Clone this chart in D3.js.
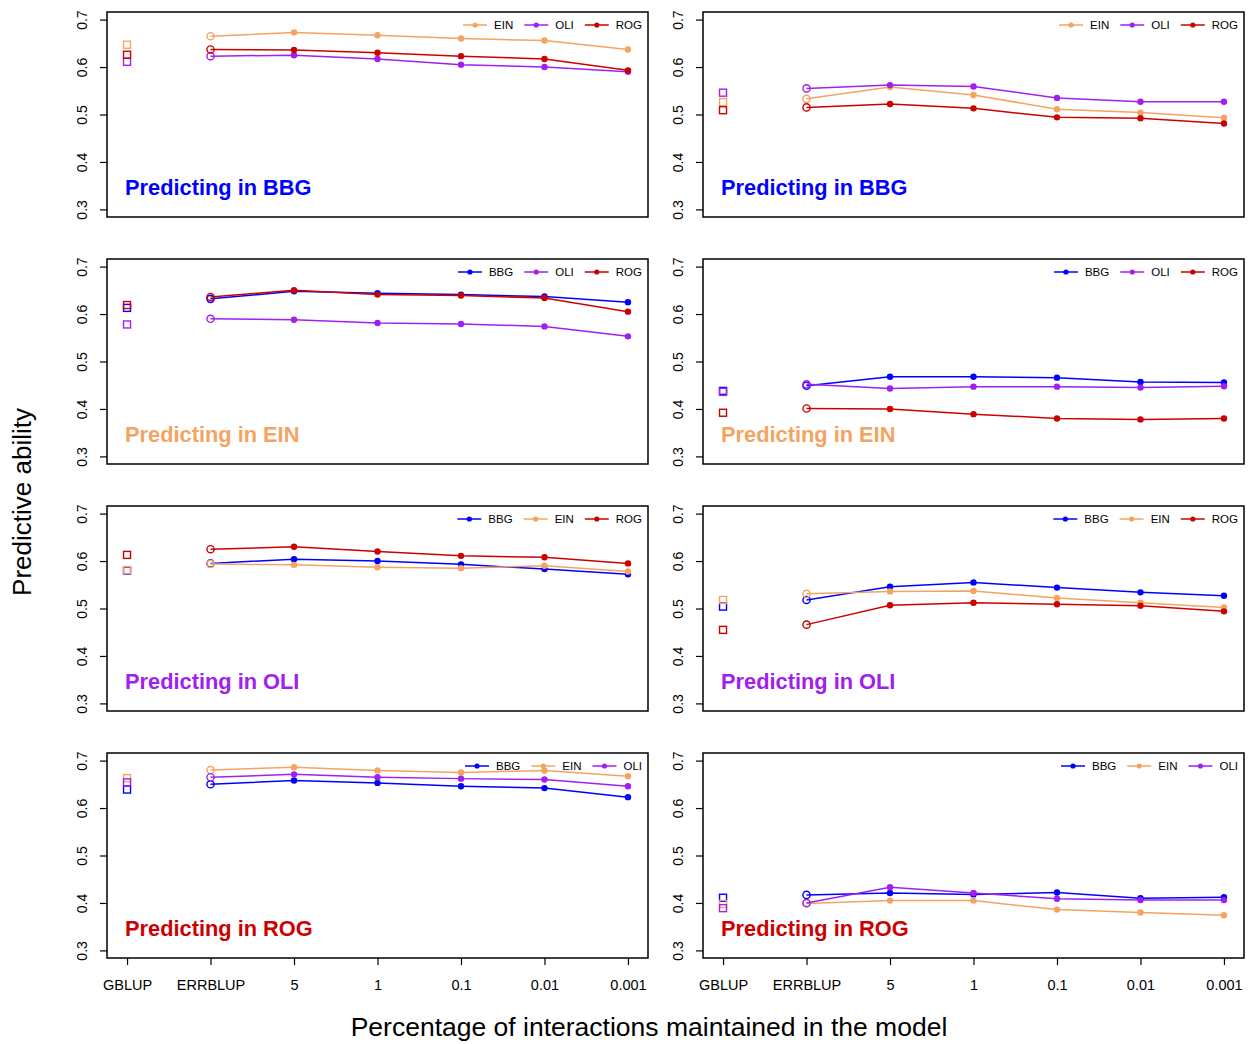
<!DOCTYPE html>
<html>
<head>
<meta charset="utf-8">
<script src="https://cdn.jsdelivr.net/npm/d3@7"></script>
<style>
  html, body { margin: 0; padding: 0; background: #ffffff; }
  svg { display: block; font-family: "Liberation Sans", Arial, Helvetica, sans-serif; }
</style>
</head>
<body>
<svg id="chart" width="1250" height="1044"></svg>
<script>
// ---------- DATA ----------
const categories = ["GBLUP", "ERRBLUP", "5", "1", "0.1", "0.01", "0.001"];
const yTicks = [0.3, 0.4, 0.5, 0.6, 0.7];
const populations = ["BBG", "EIN", "OLI", "ROG"];
const popColors = ["#0000FF", "#F4A460", "#A020F0", "#CD0000"];

// Left column, predicting in BBG
const bbgL_EIN = [0.647, 0.665, 0.673, 0.667, 0.660, 0.656, 0.637];
const bbgL_OLI = [0.611, 0.623, 0.625, 0.617, 0.605, 0.600, 0.590];
const bbgL_ROG = [0.626, 0.637, 0.636, 0.630, 0.623, 0.617, 0.593];
// Right column, predicting in BBG
const bbgR_EIN = [0.526, 0.533, 0.558, 0.541, 0.511, 0.504, 0.493];
const bbgR_OLI = [0.546, 0.555, 0.562, 0.559, 0.535, 0.527, 0.527];
const bbgR_ROG = [0.509, 0.515, 0.522, 0.513, 0.494, 0.492, 0.481];
// Left column, predicting in EIN
const einL_BBG = [0.613, 0.632, 0.648, 0.644, 0.641, 0.637, 0.625];
const einL_OLI = [0.578, 0.590, 0.588, 0.581, 0.579, 0.574, 0.553];
const einL_ROG = [0.619, 0.636, 0.650, 0.641, 0.639, 0.634, 0.605];
// Right column, predicting in EIN
const einR_BBG = [0.438, 0.449, 0.468, 0.468, 0.466, 0.457, 0.456];
const einR_OLI = [0.436, 0.452, 0.443, 0.447, 0.447, 0.445, 0.448];
const einR_ROG = [0.392, 0.401, 0.400, 0.389, 0.380, 0.378, 0.380];
// Left column, predicting in OLI
const oliL_BBG = [0.580, 0.595, 0.604, 0.600, 0.593, 0.583, 0.572];
const oliL_EIN = [0.581, 0.594, 0.592, 0.587, 0.585, 0.590, 0.578];
const oliL_ROG = [0.613, 0.625, 0.630, 0.620, 0.611, 0.608, 0.595];
// Right column, predicting in OLI
const oliR_BBG = [0.504, 0.518, 0.546, 0.555, 0.544, 0.534, 0.527];
const oliR_EIN = [0.518, 0.531, 0.536, 0.537, 0.522, 0.512, 0.502];
const oliR_ROG = [0.455, 0.466, 0.507, 0.512, 0.509, 0.506, 0.494];
// Left column, predicting in ROG
const rogL_BBG = [0.639, 0.650, 0.658, 0.653, 0.646, 0.642, 0.623];
const rogL_EIN = [0.663, 0.680, 0.686, 0.679, 0.675, 0.679, 0.667];
const rogL_OLI = [0.654, 0.665, 0.671, 0.665, 0.662, 0.660, 0.646];
// Right column, predicting in ROG
const rogR_BBG = [0.411, 0.417, 0.421, 0.418, 0.422, 0.410, 0.412];
const rogR_EIN = [0.398, 0.399, 0.405, 0.405, 0.386, 0.380, 0.374];
const rogR_OLI = [0.389, 0.400, 0.433, 0.421, 0.409, 0.406, 0.406];

// Panel table built from the arrays above
const panels = [
  { target: "BBG", col: 0, row: 0, series: [["EIN", bbgL_EIN], ["OLI", bbgL_OLI], ["ROG", bbgL_ROG]] },
  { target: "BBG", col: 1, row: 0, series: [["EIN", bbgR_EIN], ["OLI", bbgR_OLI], ["ROG", bbgR_ROG]] },
  { target: "EIN", col: 0, row: 1, series: [["BBG", einL_BBG], ["OLI", einL_OLI], ["ROG", einL_ROG]] },
  { target: "EIN", col: 1, row: 1, series: [["BBG", einR_BBG], ["OLI", einR_OLI], ["ROG", einR_ROG]] },
  { target: "OLI", col: 0, row: 2, series: [["BBG", oliL_BBG], ["EIN", oliL_EIN], ["ROG", oliL_ROG]] },
  { target: "OLI", col: 1, row: 2, series: [["BBG", oliR_BBG], ["EIN", oliR_EIN], ["ROG", oliR_ROG]] },
  { target: "ROG", col: 0, row: 3, series: [["BBG", rogL_BBG], ["EIN", rogL_EIN], ["OLI", rogL_OLI]] },
  { target: "ROG", col: 1, row: 3, series: [["BBG", rogR_BBG], ["EIN", rogR_EIN], ["OLI", rogR_OLI]] }
];

// ---------- LAYOUT ----------
const colX = [[107, 648], [703, 1244]];
const rowTop = [12, 259, 506, 753];
const panelH = 205;
const color = d3.scaleOrdinal().domain(populations).range(popColors);

const svg = d3.select("#chart");

panels.forEach(p => {
  const [x0, x1] = colX[p.col];
  const top = rowTop[p.row];
  const bottom = top + panelH;

  const x = d3.scaleLinear().domain([-0.24, 6.24]).range([x0, x1]);
  const y = d3.scaleLinear().domain([0.284, 0.716]).range([bottom, top]);

  const g = svg.append("g");

  // y axis
  const ya = g.append("g")
    .attr("transform", `translate(${x0},0)`)
    .call(d3.axisLeft(y).tickValues(yTicks).tickSize(7).tickFormat(d3.format(".1f")));
  ya.select(".domain").remove();
  ya.selectAll(".tick line").attr("stroke", "#000").attr("stroke-width", 1.2);
  ya.selectAll(".tick text")
    .attr("transform", "rotate(-90)")
    .attr("x", 0).attr("y", -20.5).attr("dy", 0)
    .attr("text-anchor", "middle")
    .attr("fill", "#000")
    .style("font-size", "14px");

  // x axis on bottom row only
  if (p.row === 3) {
    const xa = g.append("g")
      .attr("transform", `translate(0,${bottom})`)
      .call(d3.axisBottom(x).tickValues(d3.range(categories.length)).tickSize(7).tickPadding(15)
        .tickFormat(i => categories[i]));
    xa.select(".domain").remove();
    xa.selectAll(".tick line").attr("stroke", "#000").attr("stroke-width", 1.2);
    xa.selectAll(".tick text").attr("fill", "#000").style("font-size", "14.5px");
  }

  // box
  g.append("rect")
    .attr("x", x0).attr("y", top)
    .attr("width", x1 - x0).attr("height", panelH)
    .attr("fill", "none").attr("stroke", "#000").attr("stroke-width", 1.5);

  // series
  const line = d3.line().x((d, i) => x(i + 1)).y(d => y(d));
  p.series.forEach(([name, vals]) => {
    const c = color(name);
    const rest = vals.slice(1);
    g.append("path")
      .attr("d", line(rest))
      .attr("fill", "none").attr("stroke", c).attr("stroke-width", 1.5);
    // GBLUP open square
    g.append("rect")
      .attr("x", x(0) - 3.5).attr("y", y(vals[0]) - 3.5)
      .attr("width", 7).attr("height", 7)
      .attr("fill", "none").attr("stroke", c).attr("stroke-width", 1.4);
    // ERRBLUP open circle
    g.append("circle")
      .attr("cx", x(1)).attr("cy", y(vals[1])).attr("r", 3.6)
      .attr("fill", "none").attr("stroke", c).attr("stroke-width", 1.4);
    // remaining filled points
    g.selectAll(null).data(vals.slice(2)).enter().append("circle")
      .attr("cx", (d, i) => x(i + 2)).attr("cy", d => y(d)).attr("r", 3.2)
      .attr("fill", c);
  });

  // legend (horizontal, right-aligned at top)
  const leg = g.append("g").style("font-size", "11.5px");
  const items = p.series.map(s => s[0]);
  const widths = items.map(t => {
    const tmp = leg.append("text").text(t);
    const w = tmp.node().getComputedTextLength();
    tmp.remove();
    return w;
  });
  const segW = 24, gap1 = 7, gap2 = 11;
  const total = d3.sum(widths) + items.length * (segW + gap1) + (items.length - 1) * gap2;
  let lx = x1 - 6 - total;
  const ly = top + 13;
  items.forEach((t, i) => {
    const c = color(t);
    leg.append("line").attr("x1", lx).attr("x2", lx + segW).attr("y1", ly).attr("y2", ly)
      .attr("stroke", c).attr("stroke-width", 1.5);
    leg.append("circle").attr("cx", lx + segW / 2).attr("cy", ly).attr("r", 2.6).attr("fill", c);
    leg.append("text").attr("x", lx + segW + gap1).attr("y", ly + 4).attr("fill", "#000").text(t);
    lx += segW + gap1 + widths[i] + gap2;
  });

  // panel label
  g.append("text")
    .attr("x", x0 + 18).attr("y", top + 183)
    .attr("fill", color(p.target))
    .style("font-size", "21.8px").style("font-weight", "bold")
    .text("Predicting in " + p.target);
});

// axis titles
svg.append("text")
  .attr("transform", "translate(31,502) rotate(-90)")
  .attr("text-anchor", "middle")
  .style("font-size", "26px")
  .text("Predictive ability");

svg.append("text")
  .attr("x", 649).attr("y", 1036)
  .attr("text-anchor", "middle")
  .style("font-size", "26.5px")
  .text("Percentage of interactions maintained in the model");
</script>
</body>
</html>
